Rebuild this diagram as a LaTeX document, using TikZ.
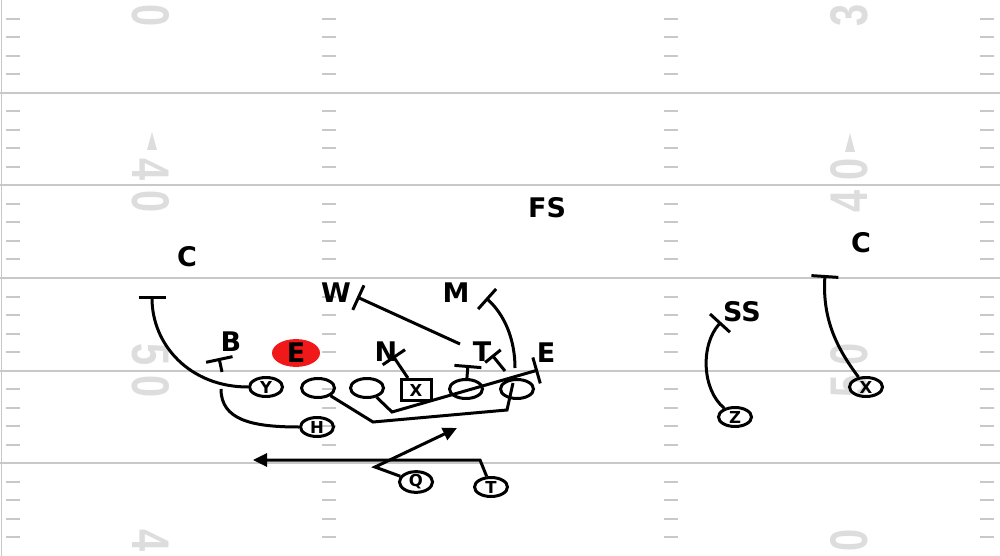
\documentclass[tikz,border=0pt]{standalone}
\usepackage{fontspec}
\setmainfont{Liberation Sans}
\newfontfamily\yardfont[FakeStretch=0.75]{Liberation Sans}
\newfontfamily\markfont{DejaVu Sans}
\usetikzlibrary{arrows.meta, shapes.geometric}
\definecolor{yardgray}{HTML}{C8C8C8}
\definecolor{numgray}{HTML}{DDDDDD}
\definecolor{defred}{HTML}{F01818}

\begin{document}
\begin{tikzpicture}[x=1pt, y=-1pt,
  player/.style={draw, ellipse, line width=3pt, minimum width=33pt, minimum height=19pt, inner sep=0pt, font=\fontsize{16.5}{16.5}\selectfont\markfont\bfseries},
  centre/.style={draw, rectangle, line width=3pt, minimum width=30pt, minimum height=21pt, inner sep=0pt, font=\fontsize{16.5}{16.5}\selectfont\markfont\bfseries},
  deflabel/.style={inner sep=0pt, font=\fontsize{27}{27}\selectfont\markfont\bfseries},
  numtext/.style={numgray, inner sep=0pt, font=\fontsize{53}{53}\selectfont\yardfont\bfseries},
  yardline/.style={yardgray, line width=2pt},
  route/.style={line width=3pt},
  blockline/.style={route, -{Bar[width=27pt]}},
  motion/.style={route, -{Triangle[length=14pt, width=13pt]}}]
  % field
  \fill[white] (0,0) rectangle (1000,556);
  \useasboundingbox (0,0) rectangle (1000,556);
  \draw[yardgray, line width=1.5pt] (1.5,0) -- (1.5,556);
  \foreach \k in {1,...,5}
    \draw[yardline] (0,{\k*92.67}) -- (1000,{\k*92.67});
  \foreach \k in {0,...,5}
    \foreach \j in {1,...,4}
      \foreach \xa/\xb in {6/20, 322/336, 664/678, 980/994}
        \draw[yardline] (\xa,{\k*92.67+\j*18.53}) -- (\xb,{\k*92.67+\j*18.53});
  % yard numbers
  \foreach \yy/\da/\db [count=\n] in {0/3/0, 185.3/4/0, 370.7/5/0, 556/4/0} {
    \node[numtext, rotate=-90] (numL\n) at (151,\yy) {\da\kern9.5pt\db};
    \node[numtext, rotate=90] (numR\n) at (849,\yy) {\da\kern9.5pt\db};
  }
  \fill[numgray] (152,132) -- (147,150) -- (157,150) -- cycle;
  \fill[numgray] (850,133) -- (845,152) -- (855,152) -- cycle;
  % offense
  \node[player] (Y) at (266,387) {Y};
  \node[player] (LT) at (318,388) {};
  \node[player] (LG) at (367,388) {};
  \node[centre] (C) at (416,390) {X};
  \node[player] (RG) at (466,389) {};
  \node[player] (RT) at (517,389) {};
  \node[player] (H) at (317,427) {H};
  \node[player] (Q) at (416,482) {Q};
  \node[player] (TB) at (491,487) {T};
  \node[player] (Z) at (735,417) {Z};
  \node[player] (X) at (866,387) {X};
  % defense
  \node[deflabel] (CL) at (187,257) {C};
  \node[deflabel] (FS) at (547,208) {FS};
  \node[deflabel] (W) at (336,293) {W};
  \node[deflabel] (M) at (456,293) {M};
  \node[deflabel] (B) at (231,342) {B};
  \node[deflabel, ellipse, fill=defred, minimum width=48pt, minimum height=27pt] (ER) at (296,353) {E};
  \node[deflabel] (N) at (386,352) {N};
  \node[deflabel] (T) at (482,352) {T};
  \node[deflabel] (E) at (546,353) {E};
  \node[deflabel] (SS) at (742,312) {SS};
  \node[deflabel] (CR) at (861,243) {C};
  % block ends and turns
  \coordinate (cBarL) at (152,296);
  \coordinate (hTop) at (221,389);
  \coordinate (hBot) at (222,372);
  \coordinate (bBar) at (219,358);
  \coordinate (pullA) at (373,422);
  \coordinate (pullB) at (507,410);
  \coordinate (pullC) at (513,383);
  \coordinate (pullD) at (515,368);
  \coordinate (mBar) at (486,298);
  \coordinate (kickA) at (392,412);
  \coordinate (eBar) at (538,370);
  \coordinate (nBar) at (393,356);
  \coordinate (tBar) at (468,365);
  \coordinate (wStart) at (460,344);
  \coordinate (wBar) at (357,297);
  \coordinate (rtStart) at (505,371);
  \coordinate (rtBar) at (492,355);
  \coordinate (ssBar) at (721,322);
  \coordinate (cBarR) at (825,275);
  \coordinate (tbTurn) at (480,460);
  \coordinate (tbEnd) at (253,460);
  \coordinate (qDrop) at (375,467);
  \coordinate (qEnd) at (457,428);
  % blocks
  \draw[route] (H) .. controls (252,427) and (221,420) .. (hTop);
  \draw[blockline] (hBot) -- (bBar);
  \draw[blockline] (Y) .. controls (190,387) and (152,345) .. (cBarL);
  \draw[route] (LT) -- (pullA) -- (pullB) -- (pullC);
  \draw[blockline] (pullD) .. controls (515,340) and (505,315) .. (mBar);
  \draw[blockline] (LG) -- (kickA) -- (eBar);
  \draw[blockline] (C) -- (nBar);
  \draw[blockline] (RG) -- (tBar);
  \draw[blockline] (wStart) -- (wBar);
  \draw[route, -{Bar[width=20pt]}] (rtStart) -- (rtBar);
  \draw[blockline] (Z) .. controls (702,390) and (700,345) .. (ssBar);
  \draw[blockline] (X) .. controls (838,350) and (822,320) .. (cBarR);
  % backfield
  \draw[motion] (TB) -- (tbTurn) -- (tbEnd);
  \draw[motion] (Q) -- (qDrop) -- (qEnd);
\end{tikzpicture}
\end{document}
